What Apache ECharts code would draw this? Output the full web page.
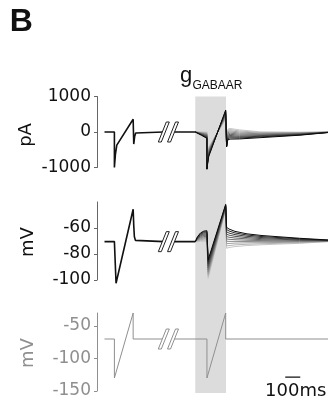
<!DOCTYPE html>
<html><head><meta charset="utf-8">
<script src="https://cdn.jsdelivr.net/npm/echarts@6/dist/echarts.min.js"></script>
<style>html,body{margin:0;padding:0;background:#fff}#c{width:328px;height:406px}</style>
</head><body><div id="c"></div>
<script>
// ---------- data (time in ms, display time; break between 445 and 510) ----------
const timeRange = [0, 1540];
const shadeT = [655, 860];          // g_GABAAR application window
const breakT = 476;                 // centre of the axis break marks
const scaleBarT = [1255, 1355];     // 100 ms scale bar
const scaleBarV = -128.5;

// Panel 1: current (pA) before GABA
const curT = [50, 116, 116, 123, 128, 132, 241, 245, 251, 258, 266, 445, 478, 510, 655];
const curV = [0, 0, -1000, -620, -480, -370, 360, -340, -130, -30, 0, 0, null, 0, 0];
// Panel 1: GABA traces (light -> dark)
const gabaCurT = [655, 695, 733, 733, 739, 745, 858, 864, 872, 887, 950, 1087, 1353, 1540];
const gabaCur = [
  [0, 0, 0, -1000, -700, -420, 360, -340, 80, 100, 60, 5, -5, 0],
  [0, -10, -20, -1005, -715, -450, 390, -350, 45, 67, 30, -13, -14, -2],
  [0, -20, -40, -1011, -730, -480, 420, -360, 12, 34, 0, -30, -23, -4],
  [0, -30, -60, -1016, -745, -510, 450, -370, -20, 1, -30, -48, -32, -5],
  [0, -40, -80, -1022, -760, -540, 480, -380, -55, -32, -60, -66, -42, -7],
  [0, -50, -100, -1027, -775, -570, 510, -390, -88, -65, -90, -84, -52, -9],
  [0, -60, -120, -1033, -790, -600, 540, -400, -120, -98, -120, -102, -62, -10],
  [0, -70, -140, -1038, -805, -630, 570, -405, -150, -131, -145, -120, -72, -12],
  [0, -80, -160, -1044, -820, -660, 595, -410, -185, -164, -170, -138, -81, -13],
  [0, -90, -180, -1050, -840, -690, 620, -420, -220, -200, -195, -160, -90, -15]
];

// Panel 2: membrane voltage (mV) before GABA
const vmT = [50, 116, 127, 241, 245, 249, 256, 267, 445, 478, 510, 655];
const vmV = [-70.5, -70.5, -102.5, -45.6, -58, -66.5, -69.5, -70.5, -70.5, null, -70.5, -70.5];
// Panel 2: GABA traces (light -> dark)
const gabaVmT = [655, 670, 690, 712, 733, 741, 858, 864, 880, 920, 1000, 1100, 1350, 1540];
const gabaVm = [
  [-70.5, -70.4, -70.3, -70.2, -70.1, -98.7, -45.6, -75.6, -75.0, -74.3, -73.5, -72.9, -71.8, -70.5],
  [-70.5, -70.0, -69.5, -69.3, -69.2, -97.1, -45.2, -73.8, -73.5, -73.0, -72.5, -72.1, -71.4, -70.4],
  [-70.5, -69.6, -68.8, -68.4, -68.3, -95.5, -44.8, -72.0, -71.9, -71.6, -71.4, -71.3, -70.9, -70.2],
  [-70.5, -69.1, -68.1, -67.5, -67.4, -93.9, -44.4, -70.2, -70.3, -70.3, -70.4, -70.5, -70.5, -70.1],
  [-70.5, -68.7, -67.3, -66.6, -66.4, -92.3, -44.0, -68.4, -68.7, -69.0, -69.4, -69.7, -70.1, -69.9],
  [-70.5, -68.3, -66.6, -65.7, -65.5, -90.7, -43.6, -66.6, -67.1, -67.7, -68.4, -69.0, -69.6, -69.8],
  [-70.5, -67.9, -65.9, -64.8, -64.6, -89.1, -43.2, -64.8, -65.5, -66.4, -67.4, -68.2, -69.2, -69.7],
  [-70.5, -67.5, -65.2, -63.9, -63.7, -87.5, -42.8, -63.0, -63.9, -65.1, -66.4, -67.4, -68.8, -69.5],
  [-70.5, -67.1, -64.5, -63.1, -62.9, -85.9, -42.3, -61.2, -62.3, -63.8, -65.4, -66.6, -68.3, -69.4],
  [-70.5, -66.7, -63.8, -62.4, -62.1, -84.4, -41.8, -59.5, -60.8, -62.6, -64.5, -65.8, -67.9, -69.2]
];

// Panel 3: command voltage (mV)
const cmdT = [50, 116, 116, 241, 241, 445, 478, 510, 733, 733, 858, 858, 1540];
const cmdV = [-70, -70, -130, -30, -70, -70, null, -70, -70, -130, -30, -70, -70];

// axes
const p1Range = [-1000, 1000], p1Ticks = [-1000, 0, 1000];
const p2Range = [-100, -40],   p2Ticks = [-100, -80, -60];
const p3Range = [-150, -30],   p3Ticks = [-150, -100, -50];
const breakBase = [0, -70.5, -70];

// ---------- styles ----------
const fanColors = ['#c8c8c8','#b4b4b4','#a0a0a0','#8c8c8c','#787878','#646464','#505050','#3c3c3c','#262626','#0a0a0a'];
const grey3 = '#8f8f8f';
const tickFont = 'DejaVu Sans';

const chart = echarts.init(document.getElementById('c'), null, {renderer: 'canvas'});

function pairs(ts, vs) { return ts.map((t, i) => [t, vs[i] === null ? '-' : vs[i]]); }
function lineS(gi, data, color, width, z) {
  return { type: 'line', xAxisIndex: gi, yAxisIndex: gi, data: data, symbol: 'none', showSymbol: false,
    clip: false, silent: true, animation: false, connectNulls: false, z: z || 2,
    lineStyle: { color: color, width: width } };
}
function breakS(gi, base, color) {
  return { type: 'custom', xAxisIndex: gi, yAxisIndex: gi, clip: false, silent: true, z: 6, animation: false,
    data: [[breakT, base]],
    renderItem: function (params, api) {
      const p = api.coord([api.value(0), api.value(1)]);
      const mk = cx => ({ type: 'polygon', shape: { points: [[cx - 5.5, p[1] + 10], [cx - 2.5, p[1] + 10], [cx + 5.5, p[1] - 10], [cx + 2.5, p[1] - 10]] },
        style: { fill: '#fff', stroke: color, lineWidth: 1 } });
      return { type: 'group', children: [mk(p[0] - 4.6), mk(p[0] + 4.6)] };
    } };
}
function yAx(gi, range, ticks, color, labelColor) {
  return { type: 'value', gridIndex: gi, min: range[0], max: range[1],
    axisLine: { show: true, lineStyle: { color: color, width: 1 } },
    axisTick: { show: true, length: 3, customValues: ticks, lineStyle: { color: color, width: 1 } },
    axisLabel: { customValues: ticks, fontFamily: tickFont, fontSize: 17, color: labelColor, margin: 6,
      formatter: v => String(v) },
    splitLine: { show: false } };
}
function xAx(gi) {
  return { type: 'value', gridIndex: gi, min: timeRange[0], max: timeRange[1], show: false };
}

const series = [];
series.push(lineS(0, pairs(curT, curV), '#111', 1.6, 3));
gabaCur.forEach((row, k) => series.push(lineS(0, pairs(gabaCurT, row), fanColors[k], 1, 2)));
series.push(breakS(0, breakBase[0], '#222'));
series.push(lineS(1, pairs(vmT, vmV), '#111', 1.6, 3));
gabaVm.forEach((row, k) => series.push(lineS(1, pairs(gabaVmT, row), fanColors[k], 1, 2)));
series.push(breakS(1, breakBase[1], '#222'));
series.push(lineS(2, pairs(cmdT, cmdV), grey3, 1, 3));
series.push(breakS(2, breakBase[2], grey3));
series.push(lineS(2, [[scaleBarT[0], scaleBarV], [scaleBarT[1], scaleBarV]], '#111', 1.2, 3));

chart.setOption({
  animation: false,
  grid: [
    { left: 97, right: 0, top: 96.5, height: 71 },
    { left: 97, right: 0, top: 202, height: 78 },
    { left: 97, right: 0, top: 313, height: 78 }
  ],
  xAxis: [xAx(0), xAx(1), xAx(2)],
  yAxis: [yAx(0, p1Range, p1Ticks, '#666', '#111'), yAx(1, p2Range, p2Ticks, '#666', '#111'), yAx(2, p3Range, p3Ticks, grey3, grey3)],
  series: series
});

const tl = chart.convertToPixel({ gridIndex: 0 }, [shadeT[0], p1Range[1]]);
const br = chart.convertToPixel({ gridIndex: 2 }, [shadeT[1], p3Range[0]]);
const sb0 = chart.convertToPixel({ gridIndex: 2 }, [scaleBarT[0], scaleBarV]);
const sb1 = chart.convertToPixel({ gridIndex: 2 }, [scaleBarT[1], scaleBarV]);
const g1 = chart.convertToPixel({ gridIndex: 0 }, [0, 0]);
const g2 = chart.convertToPixel({ gridIndex: 1 }, [0, -70]);
const g3 = chart.convertToPixel({ gridIndex: 2 }, [0, -90]);

chart.setOption({
  graphic: { elements: [
    { type: 'rect', z: -10, silent: true, shape: { x: tl[0], y: tl[1], width: br[0] - tl[0], height: br[1] + 2 - tl[1] }, style: { fill: '#dcdcdc' } },
    { type: 'text', x: 9.7, y: 22, style: { text: 'B', font: 'bold 32px "Liberation Sans"', fill: '#111', align: 'left', verticalAlign: 'middle' } },
    { type: 'text', x: 180, y: 76.4, style: { text: 'g', font: '22px "Liberation Sans"', fill: '#111', align: 'left', verticalAlign: 'middle' } },
    { type: 'text', x: 192.5, y: 85.8, style: { text: 'GABAAR', font: '12px "Liberation Sans"', fill: '#111', align: 'left', verticalAlign: 'middle' } },
    { type: 'text', x: 26, y: g1[1] + 3, rotation: Math.PI / 2, style: { text: 'pA', font: '18px "DejaVu Sans"', fill: '#111', align: 'center', verticalAlign: 'middle' } },
    { type: 'text', x: 28.5, y: g2[1] + 1, rotation: Math.PI / 2, style: { text: 'mV', font: '18px "DejaVu Sans"', fill: '#111', align: 'center', verticalAlign: 'middle' } },
    { type: 'text', x: 28.5, y: g3[1] + 1, rotation: Math.PI / 2, style: { text: 'mV', font: '18px "DejaVu Sans"', fill: grey3, align: 'center', verticalAlign: 'middle' } },
    { type: 'text', x: (sb0[0] + sb1[0]) / 2 + 3, y: sb0[1] + 14, style: { text: '100ms', font: '18px "DejaVu Sans"', fill: '#111', align: 'center', verticalAlign: 'middle' } }
  ] }
});
</script></body></html>
